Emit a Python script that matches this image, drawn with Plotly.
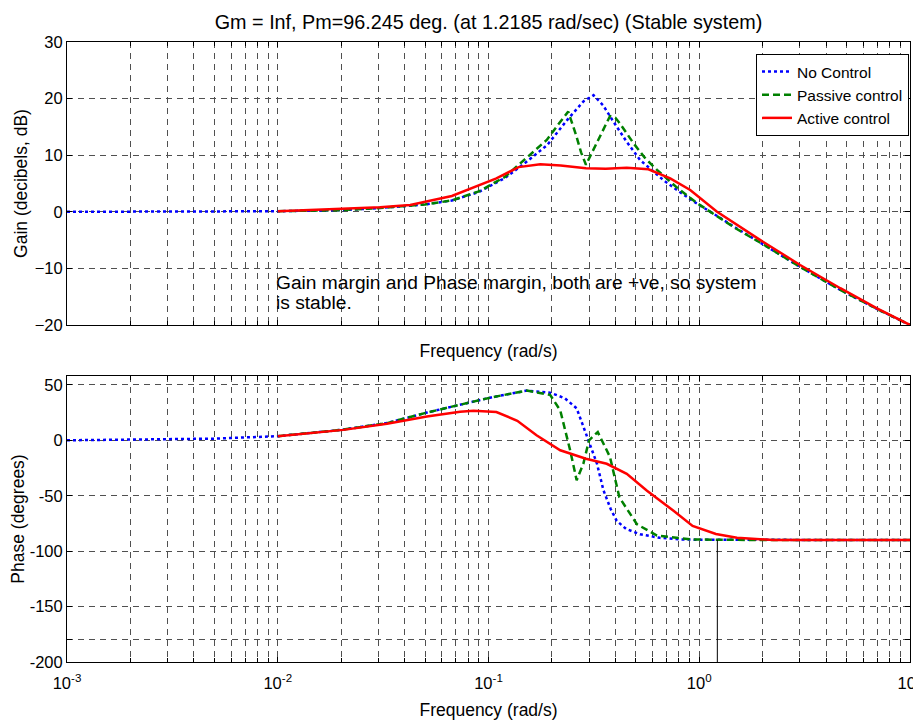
import plotly.graph_objects as go

# ---------------- data ----------------
# Magnitude (dB)
f_nc_gain = [0.001, 0.003, 0.01, 0.02, 0.03, 0.05, 0.067, 0.09, 0.12, 0.15, 0.19, 0.236, 0.282,
             0.315, 0.35, 0.392, 0.45, 0.524, 0.6, 0.676, 0.8, 0.97, 1.2, 1.5, 2, 3, 4.67, 7, 10]
gain_nc = [0, 0, 0.1, 0.3, 0.65, 1.3, 2.0, 3.5, 6.0, 8.7, 11.8, 16.2, 19.5,
           20.6, 18.8, 15.9, 12.5, 9.15, 7.2, 5.6, 3.6, 1.5, -0.6, -2.9, -5.7, -9.7, -13.8, -17.2, -20]

f_pc_gain = [0.01, 0.02, 0.03, 0.05, 0.067, 0.09, 0.12, 0.147, 0.189, 0.215, 0.239, 0.26, 0.275,
             0.29, 0.32, 0.35, 0.377, 0.4, 0.42, 0.488, 0.55, 0.63, 0.8, 0.97, 1.2, 1.5, 2, 3, 4.67, 7, 10]
gain_pc = [0.1, 0.3, 0.65, 1.3, 2.0, 3.6, 6.2, 9.15, 12.7, 15.5, 17.7, 13.6, 10.5,
           8.3, 11.5, 14.5, 16.9, 16.6, 15.6, 12.1, 9.6, 7.4, 4.0, 1.6, -0.6, -3.0, -5.7, -9.7, -13.8, -17.2, -20]

f_ac_gain = [0.01, 0.02, 0.0306, 0.0425, 0.067, 0.109, 0.139, 0.176, 0.22, 0.29, 0.36, 0.453,
             0.574, 0.728, 0.906, 1.21, 1.95, 3.01, 4.67, 6.97, 10]
gain_ac = [0.1, 0.5, 0.8, 1.2, 2.8, 5.9, 7.9, 8.4, 8.2, 7.7, 7.6, 7.8,
           7.5, 5.9, 3.85, 0.05, -5.0, -9.4, -13.5, -17.05, -20]

# Phase (degrees)
f_nc_phase = [0.001, 0.002, 0.005, 0.01, 0.02, 0.033, 0.051, 0.073, 0.105, 0.152, 0.196, 0.23,
              0.262, 0.29, 0.327, 0.351, 0.38, 0.406, 0.45, 0.524, 0.65, 0.811, 1.0, 10]
phase_nc = [0, 0.5, 1.5, 3.7, 9.4, 15.5, 25.0, 32.0, 39.0, 44.8, 43.0, 38.0,
            28.8, 6.0, -21.0, -45.0, -62.0, -72.7, -80.0, -84.8, -88.0, -89.4, -89.7, -90]

f_pc_phase = [0.01, 0.02, 0.033, 0.051, 0.073, 0.105, 0.152, 0.196, 0.219, 0.244, 0.262, 0.282,
              0.30, 0.33, 0.377, 0.418, 0.506, 0.63, 0.93, 2.0, 10]
phase_pc = [3.7, 9.4, 15.5, 25.0, 32.0, 39.0, 44.8, 41.0, 27.0, -9.0, -36.0, -21.0,
            0.0, 7.5, -15.0, -51.5, -75.7, -86.0, -89.5, -90, -90]

f_ac_phase = [0.01, 0.0205, 0.033, 0.051, 0.0733, 0.085, 0.109, 0.137, 0.169, 0.219, 0.29, 0.364,
              0.453, 0.565, 0.755, 0.93, 1.2, 1.51, 2.25, 10]
phase_ac = [3.7, 9.4, 15.0, 21.5, 25.7, 26.6, 25.5, 17.6, 4.5, -9.0, -16.7, -21.2,
            -30.3, -45.5, -63.6, -77.3, -84.5, -88.0, -90.0, -90.0]

# phase-margin marker
pm_freq = [1.2185, 1.2185]
pm_phase = [-90, -200]

# axis ticks
x_tickvals = [0.001, 0.01, 0.1, 1, 10]
x_ticktext = ["10<sup>-3</sup>", "10<sup>-2</sup>", "10<sup>-1</sup>", "10<sup>0</sup>", "10<sup>1</sup>"]
x_minor = [m * 10.0 ** e for e in range(-3, 1) for m in range(2, 10)]
gain_ticks = [-20, -10, 0, 10, 20, 30]
phase_tickvals = [-200, -180, -150, -100, -50, 0, 50]
phase_ticktext = ["-200", "", "-150", "-100", "-50", "0", "50"]

series_names = ["No Control", "Passive control", "Active control"]
note_lines = ["Gain margin and Phase margin, both are +ve, so system", "is stable."]

# ---------------- figure ----------------
FONT = "Liberation Sans, Arial, sans-serif"
BLUE, GREEN, RED = "#0000FF", "#008000", "#FF0000"
GRIDC = "#505050"

# the page body has an 8px default margin; size the figure so it fills the window
PAGE_W, PAGE_H, BODY = 921, 722, 8
W, H = PAGE_W - BODY, PAGE_H - BODY
# target plot box in page pixels
PX_L, PX_R, TOP_T, TOP_B, BOT_T, BOT_B = 67, 910, 42, 325, 376, 662
ML, MR = PX_L - BODY, W - (PX_R - BODY)
MT, MB = TOP_T - BODY, H - (BOT_B - BODY)
PH = H - MT - MB

fig = go.Figure()

fig.add_trace(go.Scatter(x=f_nc_gain, y=gain_nc, mode="lines", name=series_names[0],
                         line=dict(color=BLUE, width=2.5, dash="3px,3px"), xaxis="x", yaxis="y"))
fig.add_trace(go.Scatter(x=f_pc_gain, y=gain_pc, mode="lines", name=series_names[1],
                         line=dict(color=GREEN, width=2.5, dash="7px,4px"), xaxis="x", yaxis="y"))
fig.add_trace(go.Scatter(x=f_ac_gain, y=gain_ac, mode="lines", name=series_names[2],
                         line=dict(color=RED, width=2.5), xaxis="x", yaxis="y"))

fig.add_trace(go.Scatter(x=f_nc_phase, y=phase_nc, mode="lines", showlegend=False,
                         line=dict(color=BLUE, width=2.5, dash="3px,3px"), xaxis="x2", yaxis="y2"))
fig.add_trace(go.Scatter(x=f_pc_phase, y=phase_pc, mode="lines", showlegend=False,
                         line=dict(color=GREEN, width=2.5, dash="7px,4px"), xaxis="x2", yaxis="y2"))
fig.add_trace(go.Scatter(x=f_ac_phase, y=phase_ac, mode="lines", showlegend=False,
                         line=dict(color=RED, width=2.5), xaxis="x2", yaxis="y2"))
fig.add_trace(go.Scatter(x=pm_freq, y=pm_phase, mode="lines", showlegend=False,
                         line=dict(color="black", width=1), xaxis="x2", yaxis="y2"))

grid = dict(showgrid=True, gridcolor=GRIDC, gridwidth=1, griddash="6px,5px")
common_x = dict(type="log", range=[-3, 1], tickvals=x_tickvals, ticktext=x_ticktext,
                ticks="inside", ticklen=5, tickcolor="black", showline=True, linecolor="black",
                linewidth=1, mirror="ticks", zeroline=False, automargin=False,
                ticklabeloverflow="allow",
                minor=dict(tickvals=x_minor, ticks="inside", ticklen=4, tickcolor="black",
                           showgrid=True, gridcolor=GRIDC, gridwidth=1, griddash="6px,5px"),
                tickfont=dict(family=FONT, size=16.5, color="black"),
                **grid)
common_y = dict(ticks="inside", ticklen=5, tickcolor="black", showline=True, linecolor="black",
                linewidth=1, mirror="ticks", zeroline=False, automargin=False,
                tickfont=dict(family=FONT, size=16.5, color="black"), **grid)

top_dom = [(BOT_B - TOP_B) / PH, 1.0]
bot_dom = [0.0, (BOT_B - BOT_T) / PH]


def gain_at_px(ypx):
    # convert a page pixel row of the top panel into dB
    return 30 - (ypx - TOP_T) * 50 / (TOP_B - TOP_T)


fig.update_layout(
    width=W, height=H,
    margin=dict(l=ML, r=MR, t=MT, b=MB, autoexpand=False),
    paper_bgcolor="white", plot_bgcolor="white",
    font=dict(family=FONT, size=16, color="black"),
    title=dict(text="Gm = Inf, Pm=96.245 deg. (at 1.2185 rad/sec) (Stable system)",
               x=((PX_L + PX_R) / 2 - BODY) / W, xanchor="center",
               y=1 - (22 - BODY) / H, yanchor="middle",
               font=dict(family=FONT, size=19.8, color="black")),
    xaxis=dict(domain=[0, 1], anchor="y", showticklabels=False,
               title=dict(text="Frequency (rad/s)", standoff=19, font=dict(size=17.5)), **common_x),
    yaxis=dict(domain=top_dom, anchor="x", range=[-20, 30], tickvals=gain_ticks,
               title=dict(text="Gain (decibels, dB)", standoff=2, font=dict(size=17.5)), **common_y),
    xaxis2=dict(domain=[0, 1], anchor="y2", ticklabelstandoff=6,
                title=dict(text="Frequency (rad/s)", standoff=12, font=dict(size=17.5)), **common_x),
    yaxis2=dict(domain=bot_dom, anchor="x2", range=[-200, 58], tickvals=phase_tickvals,
                ticktext=phase_ticktext,
                title=dict(text="Phase (degrees)", standoff=2, font=dict(size=17.5)), **common_y),
    legend=dict(x=(909 - PX_L) / (PX_R - PX_L), y=(BOT_B - 54) / PH, xanchor="right", yanchor="top",
                bgcolor="white", bordercolor="black", borderwidth=1,
                font=dict(family=FONT, size=15.5, color="black"), itemwidth=30,
                tracegroupgap=0),
    annotations=[
        dict(text=note_lines[0], x=-2.02, y=gain_at_px(282.5), xref="x", yref="y",
             xanchor="left", yanchor="middle", align="left", showarrow=False,
             font=dict(family=FONT, size=19.2, color="black")),
        dict(text=note_lines[1], x=-2.02, y=gain_at_px(302.5), xref="x", yref="y",
             xanchor="left", yanchor="middle", align="left", showarrow=False,
             font=dict(family=FONT, size=19.2, color="black")),
    ],
)

fig.write_html("out.html")
